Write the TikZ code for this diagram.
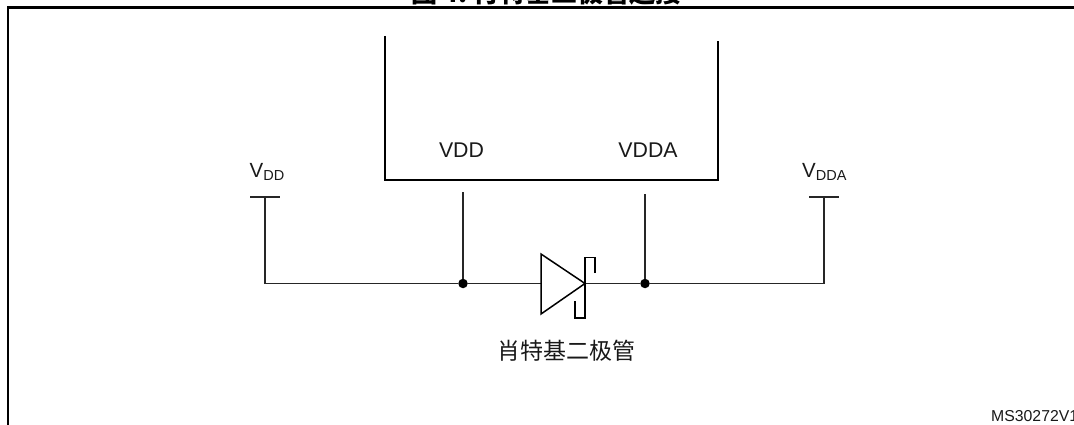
\documentclass[tikz,border=0pt]{standalone}
\usepackage{fontspec}
\setmainfont{Liberation Sans}
\newfontfamily\cjk{Noto Sans CJK SC}
\tikzset{
  wire/.style={line width=1.2pt,draw=black!85},
  heavy/.style={line width=2.4pt,draw=black},
  diodeline/.style={line width=1.5pt,draw=black,line join=miter},
  dot/.style={circle,fill=black,inner sep=0pt,minimum size=9.5pt},
  lab/.style={inner sep=0pt,font=\fontsize{21.3}{23}\selectfont,text=black!90},
  sublab/.style={inner sep=0pt,font=\fontsize{20.5}{23}\selectfont,text=black!90}
}
\newcommand{\subs}[1]{\raisebox{-3pt}{\fontsize{14.5}{16}\selectfont #1}}
\begin{document}
\begin{tikzpicture}[x=1pt,y=-1pt]
\useasboundingbox (0,0) rectangle (1074,425);
\clip (0,0) rectangle (1074,425);
% frame and title
\coordinate (fbl) at (8,425);
\coordinate (ftl) at (8,7.5);
\coordinate (ftr) at (1074,7.5);
\draw[heavy] (fbl) -- (ftl) -- (ftr);
\node[inner sep=0pt,anchor=base,font=\cjk\bfseries\fontsize{26}{28}\selectfont] (title) at (546.5,2.5) {图 4.\ 肖特基二极管连接};
% chip
\coordinate (bl0) at (385,36);
\coordinate (bl1) at (385,180);
\coordinate (br1) at (718,180);
\coordinate (br0) at (718,41);
\draw[heavy] (bl0) -- (bl1) -- (br1) -- (br0);
\node[lab] (pvdd) at (461.5,150) {VDD};
\node[lab] (pvdda) at (648,150) {VDDA};
% rails
\coordinate (tl) at (265,197);
\coordinate (tla) at (250,197);
\coordinate (tlb) at (280,197);
\coordinate (corl) at (265,283.5);
\coordinate (tr) at (824,197);
\coordinate (tra) at (809,197);
\coordinate (trb) at (839,197);
\coordinate (corr) at (824,283.5);
\node[dot] (j1) at (463,283.5) {};
\node[dot] (j2) at (645,283.5) {};
\coordinate (p1) at (463,192);
\coordinate (p2) at (645,194);
\coordinate (da) at (541,283.5);
\coordinate (dk) at (585,283.5);
\draw[wire] (tla) -- (tlb);
\draw[wire] (tra) -- (trb);
\draw[wire] (tl) -- (corl) -- (j1) -- (da);
\draw[wire] (dk) -- (j2) -- (corr) -- (tr);
\draw[wire] (p1) -- (j1);
\draw[wire] (p2) -- (j2);
% diode
\coordinate (d1) at (541,254);
\coordinate (d2) at (541,314);
\draw[diodeline] (d1) -- (d2) -- (dk) -- cycle;
\coordinate (h1) at (595,273);
\coordinate (h2) at (595,257.5);
\coordinate (h3) at (585,257.5);
\coordinate (h4) at (585,318);
\coordinate (h5) at (575,318);
\coordinate (h6) at (575,301);
\draw[diodeline] (h1) -- (h2) -- (h3) -- (h4) -- (h5) -- (h6);
% labels
\node[sublab,anchor=base west] (vdd) at (249.5,177.5) {V\subs{DD}};
\node[sublab,anchor=base west] (vdda) at (802,177.5) {V\subs{DDA}};
\node[inner sep=0pt,font=\cjk\fontsize{23}{25}\selectfont,text=black!90] (name) at (566.5,350.5) {肖特基二极管};
\node[inner sep=0pt,anchor=base west,font=\fontsize{15.8}{17}\selectfont,text=black!90] (ms) at (991,421) {MS30272V1};
\end{tikzpicture}
\end{document}
